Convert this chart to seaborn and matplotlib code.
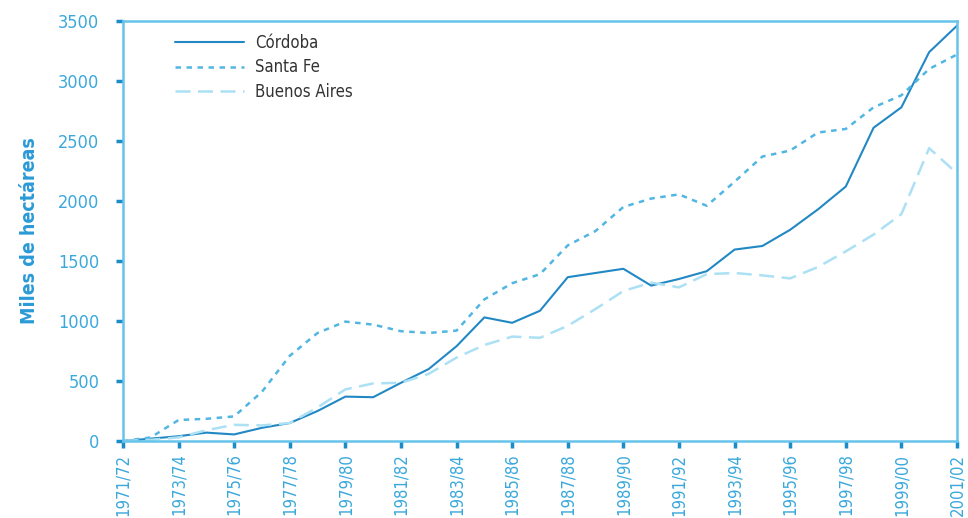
import matplotlib
matplotlib.use("Agg")
import matplotlib.pyplot as plt
import seaborn as sns
import pandas as pd

seasons = ["1971/72", "1972/73", "1973/74", "1974/75", "1975/76", "1976/77", "1977/78",
           "1978/79", "1979/80", "1980/81", "1981/82", "1982/83", "1983/84", "1984/85",
           "1985/86", "1986/87", "1987/88", "1988/89", "1989/90", "1990/91", "1991/92",
           "1992/93", "1993/94", "1994/95", "1995/96", "1996/97", "1997/98", "1998/99",
           "1999/00", "2000/01", "2001/02"]
cordoba = [0, 20, 40, 70, 55, 110, 150, 250, 370, 365, 485, 600, 790, 1030, 985, 1085,
           1365, 1400, 1435, 1295, 1350, 1415, 1595, 1625, 1760, 1930, 2120, 2610, 2780,
           3240, 3460]
santa_fe = [0, 30, 175, 185, 205, 410, 710, 900, 995, 970, 915, 900, 920, 1180, 1315,
            1390, 1630, 1750, 1950, 2020, 2055, 1960, 2160, 2370, 2420, 2570, 2600, 2780,
            2880, 3100, 3220]
buenos_aires = [0, 10, 30, 90, 135, 130, 150, 280, 430, 480, 485, 560, 695, 800, 870,
                860, 960, 1100, 1250, 1320, 1280, 1390, 1400, 1380, 1355, 1450, 1580,
                1720, 1890, 2440, 2230]
provinces = ["Córdoba", "Santa Fe", "Buenos Aires"]

sns.set_theme(style="white")
plt.rcParams["font.family"] = ["DejaVu Sans"]
plt.rcParams["font.stretch"] = "condensed"

df = pd.DataFrame({
    "i": list(range(len(seasons))) * 3,
    "v": cordoba + santa_fe + buenos_aires,
    "prov": [p for p in provinces for _ in seasons],
})

fig = plt.figure(figsize=(9.68, 5.18), dpi=100)
ax = fig.add_axes([0.127, 0.1486, 0.8616, 0.811])

colors = {"Córdoba": "#2288c4", "Santa Fe": "#52b6e2", "Buenos Aires": "#ace0f4"}
dashes = {"Córdoba": "", "Santa Fe": (2.2, 2.2), "Buenos Aires": (6, 3)}
widths = {"Córdoba": 1.5, "Santa Fe": 1.8, "Buenos Aires": 1.8}
for p in provinces:
    sub = df[df["prov"] == p]
    sns.lineplot(data=sub, x="i", y="v", ax=ax, color=colors[p], label=p,
                 linewidth=widths[p], dashes=False)
    ln = ax.lines[-1]
    if dashes[p]:
        ln.set_dashes(dashes[p])

ax.set_xlim(0, 30)
ax.set_ylim(0, 3500)
ax.set_xticks(range(0, 31, 2))
ax.set_xticklabels(seasons[::2], rotation=90)
ax.set_yticks(range(0, 3501, 500))
ax.set_xlabel("")
ax.set_ylabel("Miles de hectáreas", color="#2a9ad6", fontsize=14, fontweight="bold",
              labelpad=14)

spine_c = "#66c4ea"
for s in ax.spines.values():
    s.set_color(spine_c)
    s.set_linewidth(1.8)
ax.tick_params(axis="both", direction="out", length=5, width=2.5, color="#1a8cc8",
               labelcolor="#3aa8dc", labelsize=13, bottom=True, left=True)
ax.tick_params(axis="x", labelsize=12, pad=4)
ax.tick_params(axis="y", pad=12)

leg = ax.legend(loc="upper left", bbox_to_anchor=(0.045, 1.005), frameon=False,
                fontsize=12, handlelength=4.1, handletextpad=0.7, labelspacing=0.4,
                labelcolor="#333333")
fig.savefig("out.png", dpi=100)
